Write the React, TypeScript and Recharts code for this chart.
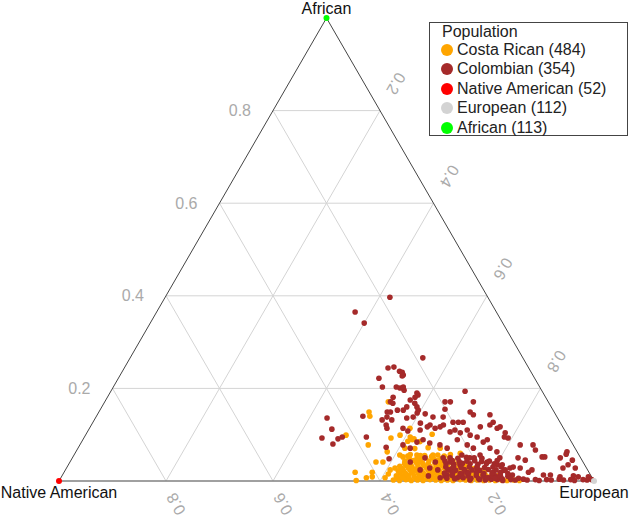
import { Legend, ReferenceDot, ReferenceLine, Scatter, ScatterChart, XAxis, YAxis } from 'recharts';

const H = Math.sqrt(3) / 2;
const FONT = '"Liberation Sans", Arial, Helvetica, sans-serif';

const populations = ['Costa Rican', 'Colombian', 'Native American', 'European', 'African'];
const sampleCounts = [484, 354, 52, 112, 113];
const colors = ['#ffa500', '#a52a2a', '#ff0000', '#d3d3d3', '#00ff00'];

const gridSteps = [0.2, 0.4, 0.6, 0.8];
const tickLabels = ['0.2', '0.4', '0.6', '0.8'];

// [European, African] ancestry proportions, Native American = 1 - European - African
const costaRican: [number, number][] = [
  [0.530, 0.171], [0.505, 0.149], [0.511, 0.140], [0.539, 0.078], [0.487, 0.099], [0.544, 0.019],
  [0.555, 0.001], [0.571, 0.007], [0.576, 0.019], [0.581, 0.009], [0.572, 0.041], [0.585, 0.041],
  [0.574, 0.093], [0.582, 0.063], [0.607, 0.024], [0.599, 0.114], [0.609, 0.095], [0.618, 0.091],
  [0.647, 0.101], [0.588, 0.099], [0.616, 0.089], [0.617, 0.052], [0.641, 0.056], [0.653, 0.045],
  [0.671, 0.056], [0.720, 0.060], [0.614, 0.028], [0.606, 0.007], [0.608, 0.015], [0.838, 0.011],
  [0.624, 0.002], [0.636, 0.001], [0.647, 0.003], [0.658, 0.001], [0.669, 0.002], [0.680, 0.001],
  [0.692, 0.003], [0.703, 0.002], [0.714, 0.001], [0.725, 0.002], [0.736, 0.001], [0.748, 0.003],
  [0.759, 0.002], [0.770, 0.001], [0.781, 0.002], [0.793, 0.001], [0.804, 0.002], [0.815, 0.001],
  [0.826, 0.002], [0.837, 0.001], [0.849, 0.002], [0.860, 0.001],
  [0.630, 0.006], [0.641, 0.007], [0.652, 0.005], [0.664, 0.006], [0.675, 0.007], [0.686, 0.005],
  [0.697, 0.006], [0.709, 0.007], [0.720, 0.005], [0.731, 0.006], [0.742, 0.007], [0.753, 0.005],
  [0.765, 0.006], [0.776, 0.007], [0.787, 0.005], [0.798, 0.006],
  [0.625, 0.011], [0.636, 0.010], [0.647, 0.012], [0.658, 0.011], [0.669, 0.010], [0.681, 0.012],
  [0.692, 0.011], [0.703, 0.010], [0.714, 0.012], [0.726, 0.011], [0.737, 0.010], [0.748, 0.012],
  [0.759, 0.011], [0.770, 0.010], [0.782, 0.012], [0.793, 0.011], [0.804, 0.010], [0.815, 0.012],
  [0.629, 0.017], [0.640, 0.016], [0.651, 0.018], [0.663, 0.017], [0.674, 0.016], [0.685, 0.018],
  [0.696, 0.017], [0.707, 0.016], [0.719, 0.018], [0.730, 0.017], [0.741, 0.016], [0.752, 0.018],
  [0.763, 0.017], [0.775, 0.016], [0.786, 0.018],
  [0.623, 0.022], [0.634, 0.021], [0.645, 0.023], [0.656, 0.022], [0.668, 0.021], [0.679, 0.023],
  [0.690, 0.022], [0.701, 0.021], [0.713, 0.023], [0.724, 0.022], [0.735, 0.021], [0.746, 0.023],
  [0.757, 0.022], [0.769, 0.021], [0.780, 0.023],
  [0.628, 0.027], [0.639, 0.028], [0.650, 0.026], [0.661, 0.027], [0.673, 0.028], [0.684, 0.026],
  [0.695, 0.027], [0.706, 0.028], [0.717, 0.026], [0.729, 0.027], [0.740, 0.028], [0.751, 0.026],
  [0.762, 0.027],
  [0.621, 0.032], [0.633, 0.033], [0.644, 0.031], [0.655, 0.032], [0.666, 0.033], [0.678, 0.031],
  [0.689, 0.032], [0.700, 0.033], [0.711, 0.031], [0.722, 0.032], [0.734, 0.033], [0.745, 0.031],
  [0.627, 0.038], [0.638, 0.037], [0.649, 0.039], [0.661, 0.038], [0.672, 0.037], [0.683, 0.039],
  [0.694, 0.038], [0.705, 0.037], [0.716, 0.039], [0.728, 0.038], [0.739, 0.037],
  [0.625, 0.043], [0.640, 0.044], [0.655, 0.042], [0.670, 0.043], [0.685, 0.044], [0.700, 0.042],
  [0.715, 0.043], [0.630, 0.049], [0.645, 0.048], [0.660, 0.050], [0.675, 0.049], [0.690, 0.048],
  [0.705, 0.050], [0.625, 0.054], [0.648, 0.055], [0.670, 0.053], [0.693, 0.054],
  [0.609, 0.056], [0.628, 0.057], [0.656, 0.055], [0.680, 0.056], [0.703, 0.057],
  [0.611, 0.071], [0.630, 0.070], [0.654, 0.072], [0.677, 0.071], [0.609, 0.086], [0.632, 0.085],
];

const colombian: [number, number][] = [
  [0.420, 0.397], [0.371, 0.365], [0.400, 0.341], [0.547, 0.266],
  [0.493, 0.244], [0.503, 0.246], [0.518, 0.237], [0.528, 0.227], [0.487, 0.222], [0.503, 0.203],
  [0.529, 0.203], [0.537, 0.201], [0.547, 0.196], [0.534, 0.181], [0.534, 0.171], [0.540, 0.168],
  [0.539, 0.149], [0.545, 0.149], [0.556, 0.153], [0.538, 0.132], [0.544, 0.138], [0.556, 0.132],
  [0.551, 0.121], [0.524, 0.235], [0.529, 0.229], [0.542, 0.203], [0.574, 0.190], [0.578, 0.186],
  [0.575, 0.181], [0.569, 0.175], [0.581, 0.168], [0.589, 0.160], [0.570, 0.160], [0.567, 0.153],
  [0.595, 0.153], [0.596, 0.147], [0.593, 0.138], [0.582, 0.136],
  [0.662, 0.194], [0.689, 0.171], [0.636, 0.171], [0.646, 0.171], [0.644, 0.155], [0.694, 0.149],
  [0.703, 0.143], [0.734, 0.143], [0.748, 0.127], [0.612, 0.145], [0.630, 0.138], [0.649, 0.138],
  [0.673, 0.127], [0.683, 0.127], [0.692, 0.127], [0.658, 0.121], [0.654, 0.117], [0.633, 0.121],
  [0.613, 0.125], [0.729, 0.117], [0.745, 0.121], [0.646, 0.114],
  [0.445, 0.093], [0.433, 0.136], [0.454, 0.112], [0.472, 0.080], [0.476, 0.091], [0.482, 0.095],
  [0.498, 0.140], [0.527, 0.095], [0.575, 0.073], [0.593, 0.048], [0.556, 0.114],
  [0.586, 0.114], [0.598, 0.108], [0.620, 0.110], [0.630, 0.117], [0.678, 0.106], [0.685, 0.110],
  [0.698, 0.104], [0.708, 0.110], [0.719, 0.099], [0.762, 0.114],
  [0.604, 0.078], [0.621, 0.071], [0.627, 0.084], [0.636, 0.089], [0.652, 0.082], [0.673, 0.078],
  [0.690, 0.071], [0.700, 0.089], [0.724, 0.078], [0.739, 0.071], [0.751, 0.084], [0.770, 0.071],
  [0.787, 0.063], [0.734, 0.095], [0.756, 0.089], [0.766, 0.117], [0.785, 0.095], [0.793, 0.093],
  [0.693, 0.050], [0.711, 0.041], [0.722, 0.028], [0.732, 0.035], [0.753, 0.019], [0.767, 0.028],
  [0.786, 0.013], [0.802, 0.019], [0.719, 0.013], [0.741, 0.007], [0.767, 0.002], [0.709, 0.007],
  [0.683, 0.041], [0.659, 0.050], [0.679, 0.028], [0.725, 0.056], [0.743, 0.050], [0.759, 0.056],
  [0.780, 0.041], [0.802, 0.035], [0.799, 0.050], [0.822, 0.024], [0.799, 0.007], [0.746, 0.015],
  [0.719, 0.024],
  [0.782, 0.104], [0.823, 0.078], [0.847, 0.078], [0.857, 0.067], [0.877, 0.052], [0.882, 0.052],
  [0.912, 0.050], [0.918, 0.063], [0.937, 0.045], [0.928, 0.028], [0.934, 0.035], [0.951, 0.028],
  [0.956, 0.011], [0.833, 0.050], [0.849, 0.045], [0.848, 0.028], [0.868, 0.019], [0.872, 0.024],
  [0.899, 0.013], [0.912, 0.013], [0.932, 0.009], [0.966, 0.009], [0.985, 0.009], [0.829, 0.028],
  [0.841, 0.013], [0.811, 0.035], [0.834, 0.030], [0.919, 0.058],
  [0.785, 0.003], [0.796, 0.002], [0.806, 0.004], [0.818, 0.003], [0.829, 0.001], [0.843, 0.003],
  [0.852, 0.002], [0.866, 0.004], [0.874, 0.002], [0.889, 0.003], [0.897, 0.001], [0.910, 0.003],
  [0.919, 0.002], [0.933, 0.004], [0.942, 0.002], [0.955, 0.003], [0.963, 0.001], [0.978, 0.003],
  [0.986, 0.002], [0.994, 0.003],
  [0.810, 0.011], [0.663, 0.024], [0.685, 0.011], [0.636, 0.041], [0.696, 0.024],
  [0.716, 0.011], [0.729, 0.012], [0.744, 0.010], [0.759, 0.011], [0.774, 0.012], [0.789, 0.010],
  [0.804, 0.011], [0.819, 0.012], [0.834, 0.010],
  [0.715, 0.024], [0.730, 0.023], [0.745, 0.025], [0.760, 0.024], [0.775, 0.023], [0.790, 0.025],
  [0.805, 0.024], [0.820, 0.023],
  [0.705, 0.037], [0.720, 0.036], [0.735, 0.038], [0.750, 0.037], [0.765, 0.036], [0.780, 0.038],
  [0.795, 0.037], [0.706, 0.050], [0.721, 0.049], [0.736, 0.051], [0.751, 0.050], [0.766, 0.049],
  [0.700, 0.043], [0.713, 0.044], [0.727, 0.042], [0.741, 0.043], [0.755, 0.044], [0.769, 0.042],
  [0.783, 0.043], [0.797, 0.044],
  [0.708, 0.030], [0.722, 0.031], [0.737, 0.029], [0.752, 0.030], [0.766, 0.031], [0.781, 0.029],
  [0.796, 0.030], [0.811, 0.031],
  [0.712, 0.017], [0.727, 0.018], [0.742, 0.016], [0.757, 0.017], [0.771, 0.018], [0.786, 0.016],
  [0.801, 0.017], [0.816, 0.018], [0.831, 0.016],
  [0.722, 0.006], [0.737, 0.005], [0.752, 0.007], [0.767, 0.006], [0.782, 0.005], [0.797, 0.007],
  [0.812, 0.006], [0.826, 0.005], [0.841, 0.007], [0.856, 0.006],
];

const nativeAmerican: [number, number][] = [[0, 0]];
const european: [number, number][] = [[1, 0]];
const african: [number, number][] = [[0, 1]];

const seriesData = [costaRican, colombian, nativeAmerican, european, african];
const seriesNames = populations.map((p, i) => `${p} (${sampleCounts[i]})`);

const toXY = ([eu, af]: [number, number]) => ({ x: eu + af / 2, y: af * H });

// grid lines: constant African, constant European, constant Native American
const gridSegments = gridSteps.flatMap((k) => [
  [{ x: k / 2, y: k * H }, { x: 1 - k / 2, y: k * H }],
  [{ x: k, y: 0 }, { x: (1 + k) / 2, y: (1 - k) * H }],
  [{ x: 1 - k, y: 0 }, { x: (1 - k) / 2, y: (1 - k) * H }],
]);

const tickStyle = { fontFamily: FONT, fontSize: 16, fill: '#aaa' };

function dot(color: string, r: number) {
  return (p: any) => <circle cx={p.cx} cy={p.cy} r={r} fill={color} />;
}

function renderLegend(props: any) {
  const items = [...(props.payload || [])].sort(
    (a: any, b: any) => seriesNames.indexOf(a.value) - seriesNames.indexOf(b.value)
  );
  return (
    <div
      style={{
        boxSizing: 'border-box',
        width: 199,
        height: 114,
        border: '1px solid #444',
        background: '#fff',
        paddingLeft: 12,
        fontFamily: FONT,
        fontSize: 16,
        color: '#222',
      }}
    >
      <div style={{ lineHeight: '17px', height: 17 }}>Population</div>
      {items.map((it: any) => (
        <div key={it.value} style={{ display: 'flex', alignItems: 'center', height: 19.5, whiteSpace: 'nowrap' }}>
          <svg width={12} height={12} style={{ marginLeft: -1, marginRight: 4 }}>
            <circle cx={6} cy={6} r={6} fill={it.color} />
          </svg>
          <span>{it.value}</span>
        </div>
      ))}
    </div>
  );
}

export default function App() {
  return (
    <>
      <style>{'body{margin:0}'}</style>
      <ScatterChart width={630} height={517} margin={{ top: 18, right: 36, bottom: 36, left: 59 }}>
        <XAxis type='number' dataKey='x' domain={[0, 1]} hide />
        <YAxis type='number' dataKey='y' domain={[0, H]} hide />

        {gridSegments.map((seg, i) => (
          <ReferenceLine key={'g' + i} segment={seg} stroke='#d4d4d4' strokeWidth={1} ifOverflow='visible' />
        ))}
        <ReferenceLine segment={[{ x: 0, y: 0 }, { x: 0.5, y: H }]} stroke='#444' strokeWidth={1} ifOverflow='visible' />
        <ReferenceLine segment={[{ x: 1, y: 0 }, { x: 0.5, y: H }]} stroke='#444' strokeWidth={1} ifOverflow='visible' />
        <ReferenceLine segment={[{ x: 0, y: 0 }, { x: 1, y: 0 }]} stroke='#808080' strokeWidth={1.5} ifOverflow='visible' />

        {populations.map((name, i) => (
          <Scatter
            key={name}
            name={seriesNames[i]}
            data={seriesData[i].map(toXY)}
            fill={colors[i]}
            shape={dot(colors[i], i < 2 ? 2.8 : 3)}
            isAnimationActive={false}
          />
        ))}

        {/* African axis ticks on the left edge */}
        {gridSteps.map((k, i) => (
          <ReferenceDot
            key={'a' + i}
            x={k / 2}
            y={k * H}
            ifOverflow='visible'
            shape={(p: any) => (
              <text x={p.cx - 22} y={p.cy} dy={5.5} textAnchor='end' {...tickStyle}>
                {tickLabels[i]}
              </text>
            )}
          />
        ))}
        {/* European axis ticks on the right edge */}
        {gridSteps.map((k, i) => (
          <ReferenceDot
            key={'e' + i}
            x={(1 + k) / 2}
            y={(1 - k) * H}
            ifOverflow='visible'
            shape={(p: any) => (
              <text
                x={p.cx + 16}
                y={p.cy - 27}
                dy={5.5}
                textAnchor='middle'
                transform={`rotate(120 ${p.cx + 16} ${p.cy - 27})`}
                {...tickStyle}
              >
                {tickLabels[i]}
              </text>
            )}
          />
        ))}
        {/* Native American axis ticks on the bottom edge */}
        {gridSteps.map((k, i) => (
          <ReferenceDot
            key={'n' + i}
            x={1 - k}
            y={0}
            ifOverflow='visible'
            shape={(p: any) => (
              <text
                x={p.cx + 10}
                y={p.cy + 23}
                dy={5.5}
                textAnchor='middle'
                transform={`rotate(-120 ${p.cx + 10} ${p.cy + 23})`}
                {...tickStyle}
              >
                {tickLabels[i]}
              </text>
            )}
          />
        ))}

        {/* corner titles */}
        <ReferenceDot
          x={0.5}
          y={H}
          ifOverflow='visible'
          shape={(p: any) => (
            <text x={p.cx} y={p.cy - 4.5} textAnchor='middle' fontFamily={FONT} fontSize={16} fill='#111'>
              African
            </text>
          )}
        />
        <ReferenceDot
          x={0}
          y={0}
          ifOverflow='visible'
          shape={(p: any) => (
            <text x={p.cx} y={p.cy + 17} textAnchor='middle' fontFamily={FONT} fontSize={16} fill='#111'>
              Native American
            </text>
          )}
        />
        <ReferenceDot
          x={1}
          y={0}
          ifOverflow='visible'
          shape={(p: any) => (
            <text x={p.cx} y={p.cy + 17} textAnchor='middle' fontFamily={FONT} fontSize={16} fill='#111'>
              European
            </text>
          )}
        />

        <Legend
          layout='vertical'
          align='center'
          verticalAlign='middle'
          content={renderLegend}
          wrapperStyle={{ left: 429, top: 22, width: 199 }}
        />
      </ScatterChart>
    </>
  );
}
